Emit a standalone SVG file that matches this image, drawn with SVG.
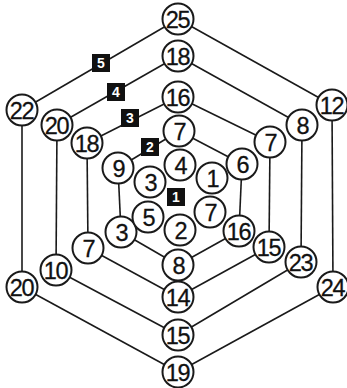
<svg xmlns="http://www.w3.org/2000/svg" width="347" height="388" viewBox="0 0 347 388">
<style>
.bg{fill:#fff}
.e line{stroke:#1a1a1a;stroke-width:1.6}
.n circle{fill:#fff;stroke:#1a1a1a;stroke-width:2}
.n text{font-family:"Liberation Sans",Arial,sans-serif;font-size:23.5px;fill:#111;stroke:#111;stroke-width:0.3;text-anchor:middle;dominant-baseline:central;letter-spacing:-1.2px}
.s rect{fill:#111}
.s text{font-family:"Liberation Sans",Arial,sans-serif;font-size:14px;font-weight:bold;fill:#fff;text-anchor:middle;dominant-baseline:central}
</style>
<rect class="bg" width="347" height="388"/>
<g id="connectors" class="e">
<line x1="178" y1="19" x2="332" y2="105"/>
<line x1="332" y1="105" x2="333" y2="287"/>
<line x1="333" y1="287" x2="178" y2="372"/>
<line x1="178" y1="372" x2="22" y2="287"/>
<line x1="22" y1="287" x2="22" y2="110"/>
<line x1="22" y1="110" x2="178" y2="19"/>
<line x1="178" y1="56" x2="302" y2="125"/>
<line x1="302" y1="125" x2="301" y2="262"/>
<line x1="301" y1="262" x2="178" y2="335"/>
<line x1="178" y1="335" x2="56" y2="270"/>
<line x1="56" y1="270" x2="57" y2="125"/>
<line x1="57" y1="125" x2="178" y2="56"/>
<line x1="178" y1="97" x2="270" y2="142"/>
<line x1="270" y1="142" x2="269" y2="247"/>
<line x1="269" y1="247" x2="178" y2="297"/>
<line x1="178" y1="297" x2="88" y2="248"/>
<line x1="88" y1="248" x2="87" y2="143"/>
<line x1="87" y1="143" x2="178" y2="97"/>
<line x1="179" y1="131" x2="242" y2="164"/>
<line x1="242" y1="164" x2="239" y2="231"/>
<line x1="239" y1="231" x2="178" y2="265"/>
<line x1="178" y1="265" x2="121" y2="232"/>
<line x1="121" y1="232" x2="118" y2="168"/>
<line x1="118" y1="168" x2="179" y2="131"/>
</g>
<g id="badges" class="s">
<g id="b5"><rect x="92" y="54" width="18" height="18"/><text x="101" y="63">5</text></g>
<g id="b4"><rect x="107" y="83" width="18" height="18"/><text x="116" y="92">4</text></g>
<g id="b3"><rect x="121" y="109" width="18" height="18"/><text x="130" y="118">3</text></g>
<g id="b2"><rect x="141" y="138" width="18" height="18"/><text x="150" y="147">2</text></g>
<g id="b1"><rect x="167" y="188" width="18" height="18"/><text x="176" y="197">1</text></g>
</g>
<g id="n25" class="n"><circle cx="178" cy="19" r="15.5"/><text x="177.5" y="20">25</text></g>
<g id="n12" class="n"><circle cx="332" cy="105" r="15.5"/><text x="331.5" y="106">12</text></g>
<g id="n24" class="n"><circle cx="333" cy="287" r="15.5"/><text x="332.5" y="288">24</text></g>
<g id="n19" class="n"><circle cx="178" cy="372" r="15.5"/><text x="177.5" y="373">19</text></g>
<g id="n20a" class="n"><circle cx="22" cy="287" r="15.5"/><text x="21.5" y="288">20</text></g>
<g id="n22" class="n"><circle cx="22" cy="110" r="15.5"/><text x="21.5" y="111">22</text></g>
<g id="n18a" class="n"><circle cx="178" cy="56" r="15.5"/><text x="177.5" y="57">18</text></g>
<g id="n8a" class="n"><circle cx="302" cy="125" r="15.5"/><text x="302.5" y="126">8</text></g>
<g id="n23" class="n"><circle cx="301" cy="262" r="15.5"/><text x="300.5" y="263">23</text></g>
<g id="n15a" class="n"><circle cx="178" cy="335" r="15.5"/><text x="177.5" y="336">15</text></g>
<g id="n10" class="n"><circle cx="56" cy="270" r="15.5"/><text x="55.5" y="271">10</text></g>
<g id="n20b" class="n"><circle cx="57" cy="125" r="15.5"/><text x="56.5" y="126">20</text></g>
<g id="n16a" class="n"><circle cx="178" cy="97" r="15.5"/><text x="177.5" y="98">16</text></g>
<g id="n7a" class="n"><circle cx="270" cy="142" r="15.5"/><text x="270.5" y="143">7</text></g>
<g id="n15b" class="n"><circle cx="269" cy="247" r="15.5"/><text x="268.5" y="248">15</text></g>
<g id="n14" class="n"><circle cx="178" cy="297" r="15.5"/><text x="177.5" y="298">14</text></g>
<g id="n7b" class="n"><circle cx="88" cy="248" r="15.5"/><text x="88.5" y="249">7</text></g>
<g id="n18b" class="n"><circle cx="87" cy="143" r="15.5"/><text x="86.5" y="144">18</text></g>
<g id="n7c" class="n"><circle cx="179" cy="131" r="15.5"/><text x="179.5" y="132">7</text></g>
<g id="n6" class="n"><circle cx="242" cy="164" r="15.5"/><text x="242.5" y="165">6</text></g>
<g id="n16b" class="n"><circle cx="239" cy="231" r="15.5"/><text x="238.5" y="232">16</text></g>
<g id="n8b" class="n"><circle cx="178" cy="265" r="15.5"/><text x="178.5" y="266">8</text></g>
<g id="n3a" class="n"><circle cx="121" cy="232" r="15.5"/><text x="121.5" y="233">3</text></g>
<g id="n9" class="n"><circle cx="118" cy="168" r="15.5"/><text x="118.5" y="169">9</text></g>
<g id="n4" class="n"><circle cx="180" cy="165" r="15.5"/><text x="180.5" y="166">4</text></g>
<g id="n1" class="n"><circle cx="212" cy="178" r="15.5"/><text x="212.5" y="179">1</text></g>
<g id="n7d" class="n"><circle cx="210" cy="212" r="15.5"/><text x="210.5" y="213">7</text></g>
<g id="n2" class="n"><circle cx="180" cy="230" r="15.5"/><text x="180.5" y="231">2</text></g>
<g id="n5" class="n"><circle cx="148" cy="217" r="15.5"/><text x="148.5" y="218">5</text></g>
<g id="n3b" class="n"><circle cx="150" cy="182" r="15.5"/><text x="150.5" y="183">3</text></g>
</svg>
